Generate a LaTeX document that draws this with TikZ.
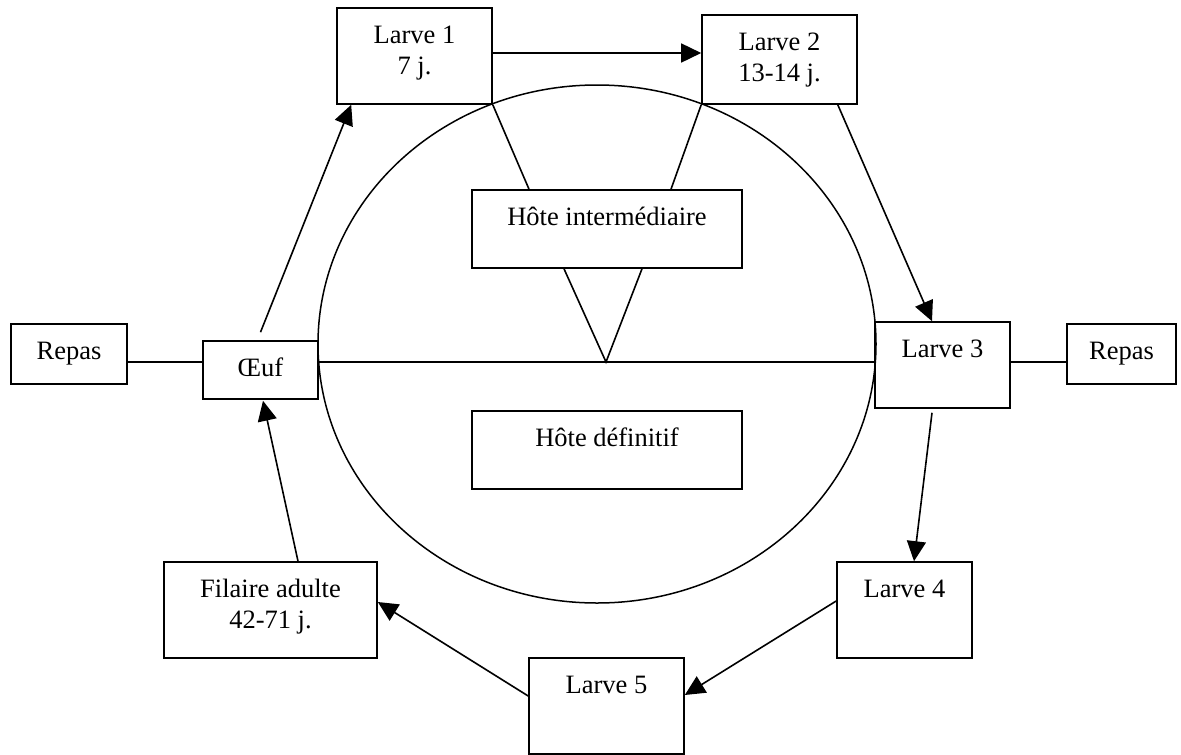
\documentclass[tikz,border=0pt]{standalone}
\usepackage{fontspec}
\setmainfont{Liberation Serif}
\usetikzlibrary{arrows.meta,shapes.geometric}
\begin{document}
\begin{tikzpicture}[x=1pt,y=-1pt,
  box/.style={draw, line width=1.6pt, inner sep=0pt, rectangle},
  lbl/.style={anchor=north, inner sep=0pt, align=center, yshift=-14pt, font=\fontsize{26.5}{31.5}\selectfont},
  arr/.style={line width=1.6pt, -{Triangle[length=20pt,width=19pt]}},
  ln/.style={line width=1.6pt}]
\useasboundingbox (0,0) rectangle (1181,755);

% cycle ellipse
\node[draw, ellipse, line width=1.5pt, minimum width=558pt, minimum height=518pt, inner sep=0pt] (cyc) at (597,344) {};

% boxes
\node[box, minimum width=155pt, minimum height=96pt] (L1) at (414.5,56) {};
\node[box, minimum width=155pt, minimum height=89pt] (L2) at (779.5,59.5) {};
\node[box, minimum width=270pt, minimum height=78pt] (HI) at (607,229) {};
\node[box, minimum width=116pt, minimum height=60pt] (RL) at (69,354) {};
\node[box, minimum width=115pt, minimum height=58pt] (OE) at (260.5,370) {};
\node[box, minimum width=135pt, minimum height=86pt] (L3) at (942.5,365) {};
\node[box, minimum width=109pt, minimum height=60pt] (RR) at (1121.5,354) {};
\node[box, minimum width=270pt, minimum height=78pt] (HD) at (607,450) {};
\node[box, minimum width=213pt, minimum height=96pt] (FA) at (270.5,610) {};
\node[box, minimum width=135pt, minimum height=96pt] (L4) at (904.5,610) {};
\node[box, minimum width=155pt, minimum height=96pt] (L5) at (606.5,706) {};

% texts
\node[lbl] (tL1) at (L1.north) {\strut Larve 1\\7 j.};
\node[lbl] (tL2) at (L2.north) {\strut Larve 2\\13-14 j.};
\node[lbl] (tHI) at (HI.north) {\strut Hôte intermédiaire};
\node[lbl] (tRL) at (RL.north) {\strut Repas};
\node[lbl] (tOE) at (OE.north) {\strut Œuf};
\node[lbl] (tL3) at (L3.north) {\strut Larve 3};
\node[lbl] (tRR) at (RR.north) {\strut Repas};
\node[lbl] (tHD) at (HD.north) {\strut Hôte définitif};
\node[lbl] (tFA) at (FA.north) {\strut Filaire adulte\\42-71 j.};
\node[lbl] (tL4) at (L4.north) {\strut Larve 4};
\node[lbl] (tL5) at (L5.north) {\strut Larve 5};

% structure lines
\coordinate (apex) at (606,362);
\draw[ln] (L1.south east) -- ([xshift=-78pt]HI.north);
\draw[ln] (L2.south west) -- ([xshift=64pt]HI.north);
\draw[ln] ([xshift=-43pt]HI.south) -- (apex) -- ([xshift=35pt]HI.south);
\draw[ln] ([yshift=8pt]OE.east) -- ([yshift=3pt]L3.west);
\draw[ln] ([yshift=-8pt]RL.east) -- ([yshift=8pt]OE.west);
\draw[ln] ([yshift=3pt]L3.east) -- ([yshift=-8pt]RR.west);

% cycle arrows
\draw[arr] ([yshift=3pt]L1.east) -- ([yshift=6.5pt]L2.west);
\draw[arr] ([xshift=-20pt]L2.south east) -- ([xshift=-10.5pt]L3.north);
\draw[arr] ([xshift=-10.5pt,yshift=-4pt]L3.south) -- ([xshift=9.5pt]L4.north);
\draw[arr] ([yshift=9pt]L4.west) -- ([yshift=11pt]L5.east);
\draw[arr] ([yshift=10pt]L5.west) -- ([yshift=8pt]FA.east);
\draw[arr] ([xshift=27.5pt]FA.north) -- ([xshift=2.5pt,yshift=-1pt]OE.south);
\draw[arr] ([yshift=8pt]OE.north) -- ([xshift=15pt]L1.south west);
\end{tikzpicture}
\end{document}
